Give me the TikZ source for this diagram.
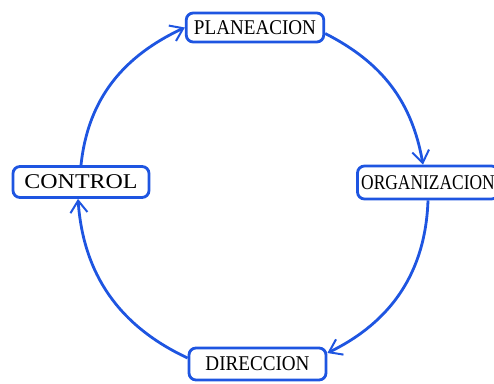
\documentclass[tikz,border=0pt]{standalone}
\usepackage{graphicx}
\usepackage{fontspec}
\setmainfont{Liberation Serif}
\usetikzlibrary{arrows.meta}
\definecolor{cblue}{RGB}{30,85,225}
\begin{document}
\begin{tikzpicture}[x=1pt,y=1pt,
  box/.style={draw=cblue, line width=2.8pt, rounded corners=7pt, fill=white, inner sep=0pt,
              font=\fontsize{21}{21}\selectfont},
  link/.style={draw=cblue, line width=2.8pt,
              -{Straight Barb[length=12pt,width=17pt,line width=2pt]}}]
\useasboundingbox (0,0) rectangle (494,383);
\node[box, minimum width=137.5pt, minimum height=29pt] (p) at (255,355.5) {\scalebox{0.91}[1]{PLANEACION}};
\node[box, minimum width=141pt, minimum height=33pt] (o) at (428,200.5) {\scalebox{0.83}[1]{ORGANIZACION}};
\node[box, minimum width=136pt, minimum height=31pt] (c) at (81,201) {\scalebox{1.14}[1]{CONTROL}};
\node[box, minimum width=137pt, minimum height=32pt] (d) at (257.5,19) {\scalebox{0.91}[1]{DIRECCION}};
\draw[link] (c.north) to[out=84, in=205] (p.west);
\draw[link] ([yshift=-6pt]p.east) to[out=-27, in=100] ([xshift=-5pt]o.north);
\draw[link] (o.south) to[out=268, in=26] ([yshift=11pt]d.east);
\draw[link] ([yshift=6pt]d.west) to[out=155, in=274] ([xshift=-3pt]c.south);
\end{tikzpicture}
\end{document}
